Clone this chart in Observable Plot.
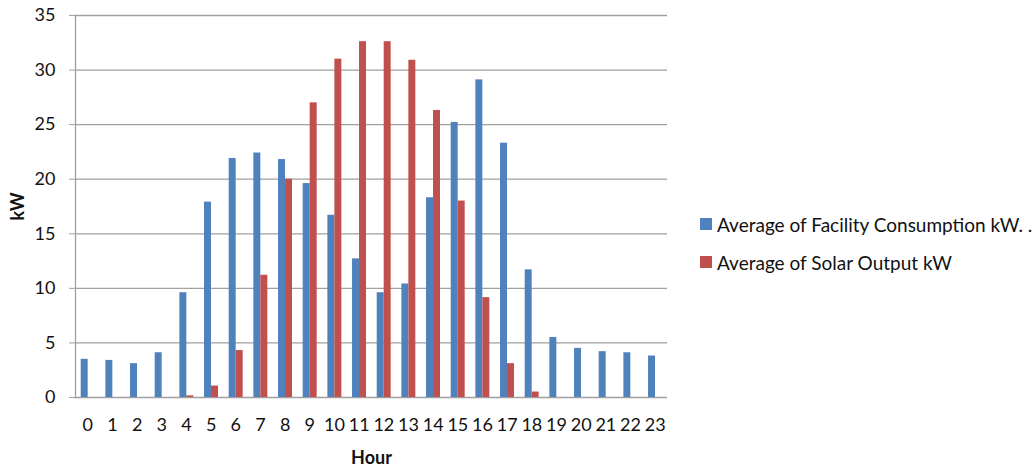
<!DOCTYPE html>
<html><head><meta charset="utf-8">
<script src="https://cdn.jsdelivr.net/npm/d3@7"></script>
<script src="https://cdn.jsdelivr.net/npm/@observablehq/plot@0.6"></script>
<style>
html,body{margin:0;padding:0;background:#fff;}
#wrap{position:relative;width:1034px;height:466px;overflow:hidden;font-family:Lato,"Open Sans",sans-serif;}
#legend{position:absolute;left:700px;top:205px;font-size:19px;color:#111;white-space:nowrap;}
.item{display:flex;align-items:center;height:38px;}
.sw{width:12px;height:12px;margin-right:5px;flex:none;}
g[aria-label="x-axis label"] text, g[aria-label="y-axis label"] text{font-weight:bold;}
</style></head><body><div id="wrap"><div id="legend"></div></div>
<script>
const hours = [0,1,2,3,4,5,6,7,8,9,10,11,12,13,14,15,16,17,18,19,20,21,22,23];
const consumption = [3.5,3.4,3.1,4.1,9.6,17.9,21.9,22.4,21.8,19.6,16.7,12.7,9.6,10.4,18.3,25.2,29.1,23.3,11.7,5.5,4.5,4.2,4.1,3.8];
const solar = [0,0,0,0,0.15,1.05,4.3,11.2,20.0,27.0,31.0,32.6,32.6,30.9,26.3,18.0,9.15,3.1,0.5,0,0,0,0,0];
const seriesNames = ["Average of Facility Consumption kW. .", "Average of Solar Output kW"];
const seriesColors = ["#4F81BD", "#C0504D"];
const yTicks = [0,5,10,15,20,25,30,35];

const rows = hours.map((h,i)=>({hour:h, consumption:consumption[i], solar:solar[i]}));

const chart = Plot.plot({
  width:1034, height:466,
  marginLeft:75, marginRight:367, marginTop:15, marginBottom:69,
  style:{fontFamily:"Lato, 'Open Sans', sans-serif", fontSize:"18px", color:"#111", background:"#fff"},
  x:{type:"band", domain:hours, padding:0, round:false},
  y:{domain:[0,35]},
  marks:[
    Plot.gridY(yTicks, {stroke:"#a0a0a0", strokeOpacity:1, strokeWidth:1.3}),
    Plot.frame({anchor:"left", stroke:"#a0a0a0", strokeWidth:1.3}),
    Plot.axisY(yTicks, {tickSize:6, tickPadding:14, stroke:"#a0a0a0", fill:"#111", label:"kW", labelAnchor:"center", labelArrow:"none", labelOffset:64}),
    Plot.axisX({tickSize:0, tickPadding:21, fill:"#111", label:"Hour", labelAnchor:"center", labelArrow:"none"}),
    Plot.barY(rows, {x:"hour", y:"consumption", fill:seriesColors[0], insetLeft:5.7, insetRight:12}),
    Plot.barY(rows, {x:"hour", y:"solar", fill:seriesColors[1], insetLeft:12.7, insetRight:5})
  ]
});
document.getElementById("wrap").prepend(chart);
const lg = document.getElementById("legend");
seriesNames.forEach((n,i)=>{
  const it = document.createElement("div"); it.className="item";
  const sw = document.createElement("span"); sw.className="sw"; sw.style.background=seriesColors[i];
  const tx = document.createElement("span"); tx.textContent=n;
  it.append(sw,tx); lg.append(it);
});
</script></body></html>
